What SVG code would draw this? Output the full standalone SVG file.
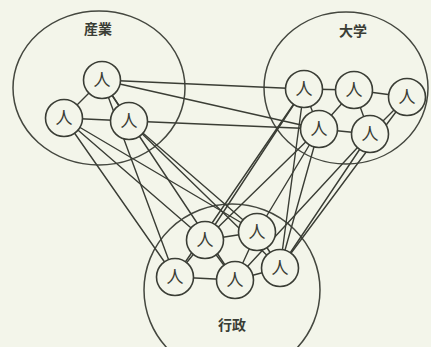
<svg xmlns="http://www.w3.org/2000/svg" width="431" height="347" viewBox="0 0 431 347">
  <style>
    .bg { fill: #f3f5ea; }
    .group { fill: none; stroke: #44473f; stroke-width: 1.5; }
    .edge { stroke: #3a3d35; stroke-width: 1.4; fill: none; stroke-linecap: round; }
    .person circle { fill: #f3f5ea; stroke: #3a3d35; stroke-width: 1.6; }
    .person text, .label { font-family: "Noto Sans CJK JP", "Noto Sans CJK SC", sans-serif; fill: #3a3d35; text-anchor: middle; }
    .person text { font-size: 17px; }
    .label { font-size: 14px; font-weight: bold; }
  </style>
  <rect class="bg" x="0" y="0" width="431" height="347"/>

  <!-- sector boundaries -->
  <g id="sector-industry">
    <ellipse class="group" cx="99" cy="88" rx="86" ry="77"/>
    <text class="label" x="98" y="34">産業</text>
  </g>
  <g id="sector-university">
    <ellipse class="group" cx="346" cy="88" rx="82" ry="76"/>
    <text class="label" x="353" y="36">大学</text>
  </g>
  <g id="sector-government">
    <ellipse class="group" cx="232" cy="290" rx="88" ry="86"/>
    <text class="label" x="232" y="330">行政</text>
  </g>

  <!-- links between people -->
  <g id="connectors">
    <!-- inside industry -->
    <line class="edge" x1="102" y1="80" x2="64" y2="118"/>
    <line class="edge" x1="102" y1="80" x2="129" y2="121"/>
    <line class="edge" x1="64" y1="118" x2="129" y2="121"/>
    <!-- inside university -->
    <line class="edge" x1="304" y1="89" x2="354" y2="90"/>
    <line class="edge" x1="354" y1="90" x2="407" y2="97"/>
    <line class="edge" x1="304" y1="89" x2="319" y2="129"/>
    <line class="edge" x1="354" y1="90" x2="319" y2="129"/>
    <line class="edge" x1="354" y1="90" x2="370" y2="134"/>
    <line class="edge" x1="407" y1="97" x2="370" y2="134"/>
    <line class="edge" x1="319" y1="129" x2="370" y2="134"/>
    <!-- inside government -->
    <line class="edge" x1="205" y1="240" x2="257" y2="232"/>
    <line class="edge" x1="205" y1="240" x2="175" y2="277"/>
    <line class="edge" x1="205" y1="240" x2="235" y2="280"/>
    <line class="edge" x1="175" y1="277" x2="235" y2="280"/>
    <line class="edge" x1="235" y1="280" x2="280" y2="268"/>
    <line class="edge" x1="257" y1="232" x2="280" y2="268"/>
    <line class="edge" x1="257" y1="232" x2="235" y2="280"/>
    <!-- industry to university -->
    <line class="edge" x1="102" y1="80" x2="304" y2="89"/>
    <line class="edge" x1="102" y1="80" x2="319" y2="129"/>
    <line class="edge" x1="129" y1="121" x2="319" y2="129"/>
    <!-- industry to government -->
    <line class="edge" x1="102" y1="80" x2="175" y2="277"/>
    <line class="edge" x1="64" y1="118" x2="175" y2="277"/>
    <line class="edge" x1="64" y1="118" x2="205" y2="240"/>
    <line class="edge" x1="64" y1="118" x2="257" y2="232"/>
    <line class="edge" x1="129" y1="121" x2="257" y2="232"/>
    <line class="edge" x1="129" y1="121" x2="280" y2="268"/>
    <line class="edge" x1="102" y1="80" x2="235" y2="280"/>
    <!-- university to government -->
    <line class="edge" x1="304" y1="89" x2="175" y2="277"/>
    <line class="edge" x1="304" y1="89" x2="205" y2="240"/>
    <line class="edge" x1="304" y1="89" x2="280" y2="268"/>
    <line class="edge" x1="319" y1="129" x2="205" y2="240"/>
    <line class="edge" x1="319" y1="129" x2="257" y2="232"/>
    <line class="edge" x1="319" y1="129" x2="280" y2="268"/>
    <line class="edge" x1="370" y1="134" x2="280" y2="268"/>
    <line class="edge" x1="407" y1="97" x2="280" y2="268"/>
    <line class="edge" x1="370" y1="134" x2="235" y2="280"/>
  </g>

  <!-- people: industry -->
  <g id="ind-1" class="person"><circle cx="102" cy="80" r="18.5"/><text x="102" y="86">人</text></g>
  <g id="ind-2" class="person"><circle cx="64" cy="118" r="18.5"/><text x="64" y="124">人</text></g>
  <g id="ind-3" class="person"><circle cx="129" cy="121" r="18.5"/><text x="129" y="127">人</text></g>
  <!-- people: university -->
  <g id="uni-1" class="person"><circle cx="304" cy="89" r="18.5"/><text x="304" y="95">人</text></g>
  <g id="uni-2" class="person"><circle cx="354" cy="90" r="18.5"/><text x="354" y="96">人</text></g>
  <g id="uni-3" class="person"><circle cx="407" cy="97" r="18.5"/><text x="407" y="103">人</text></g>
  <g id="uni-4" class="person"><circle cx="319" cy="129" r="18.5"/><text x="319" y="135">人</text></g>
  <g id="uni-5" class="person"><circle cx="370" cy="134" r="18.5"/><text x="370" y="140">人</text></g>
  <!-- people: government -->
  <g id="gov-1" class="person"><circle cx="205" cy="240" r="18.5"/><text x="205" y="246">人</text></g>
  <g id="gov-2" class="person"><circle cx="257" cy="232" r="18.5"/><text x="257" y="238">人</text></g>
  <g id="gov-3" class="person"><circle cx="175" cy="277" r="18.5"/><text x="175" y="283">人</text></g>
  <g id="gov-4" class="person"><circle cx="235" cy="280" r="18.5"/><text x="235" y="286">人</text></g>
  <g id="gov-5" class="person"><circle cx="280" cy="268" r="18.5"/><text x="280" y="274">人</text></g>
</svg>
